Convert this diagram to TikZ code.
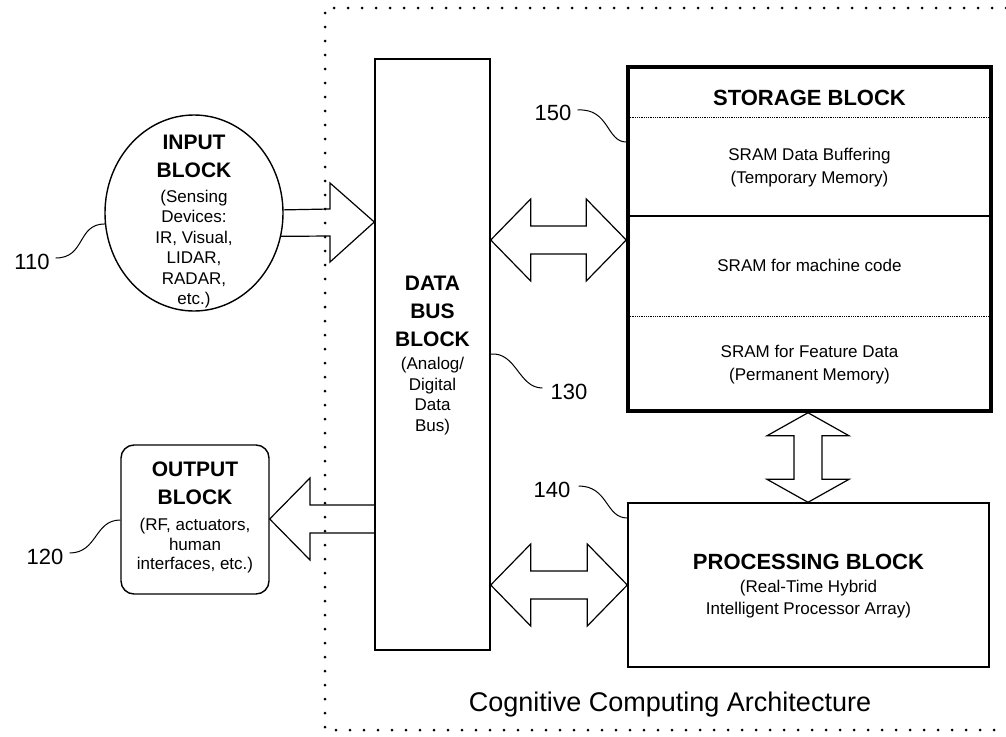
\documentclass[tikz,border=0pt]{standalone}
\usepackage{fontspec}
\setmainfont{Liberation Sans}
\usetikzlibrary{calc,shapes.geometric}
\begin{document}
\begin{tikzpicture}[x=1pt,y=-1pt,
  blk/.style={draw, line width=1.4pt, inner sep=0pt},
  barrow/.style={draw, line width=1.2pt, line join=miter},
  leader/.style={draw, line width=1pt},
  head/.style={font=\fontsize{21}{28}\selectfont\bfseries, align=center, inner sep=0pt},
  bighead/.style={font=\fontsize{22}{28}\selectfont\bfseries, align=center, inner sep=0pt},
  body/.style={font=\fontsize{17}{20.5}\selectfont, align=center, inner sep=0pt},
  lbl/.style={font=\fontsize{22}{26}\selectfont, inner sep=0pt},
  border/.style={line width=3pt, line cap=round, dash pattern=on 0pt off 14pt}
]
\useasboundingbox (0,0) rectangle (1006,736);
% dotted boundary of the architecture
\draw[border] (1006,8) -- (325,8) -- (325,730) -- (1006,730);

% blocks
\node[blk, ellipse, minimum width=178pt, minimum height=196pt] (in) at (194,213) {};
\node[blk, rounded corners=13pt, minimum width=148pt, minimum height=149pt] (out) at (195,519.5) {};
\node[blk, minimum width=115pt, minimum height=591pt] (bus) at (432.5,354.5) {};
\node[draw, line width=3.5pt, inner sep=0pt, minimum width=363pt, minimum height=344pt] (stor) at (809.5,239) {};
\node[blk, minimum width=361pt, minimum height=164pt] (proc) at (808.5,585) {};

% storage dividers
\draw[line width=0.8pt, densely dotted] (stor.west |- 0,117) -- (stor.east |- 0,117);
\draw[line width=1.2pt] (stor.west |- 0,216) -- (stor.east |- 0,216);
\draw[line width=0.8pt, densely dotted] (stor.west |- 0,316) -- (stor.east |- 0,316);

% texts
\node[head] (inH) at (194,156) {INPUT\\BLOCK};
\node[body] (inB) at (194,249) {(Sensing\\Devices:\\IR, Visual,\\LIDAR,\\RADAR,\\etc.)};
\node[head] (outH) at (195,483) {OUTPUT\\BLOCK};
\node[body, font=\fontsize{17}{19.5}\selectfont] (outB) at (195,546) {(RF, actuators,\\human\\interfaces, etc.)};
\node[head] (busH) at (432.5,311.5) {DATA\\BUS\\BLOCK};
\node[body] (busB) at (432.5,396) {(Analog/\\Digital\\Data\\Bus)};
\node[bighead] (storH) at (809.5,98) {STORAGE BLOCK};
\node[body, font=\fontsize{17}{23}\selectfont] (s1) at (809.5,167.5) {SRAM Data Buffering\\(Temporary Memory)};
\node[body] (s2) at (809.5,265) {SRAM for machine code};
\node[body, font=\fontsize{17}{23}\selectfont] (s3) at (809.5,364.5) {SRAM for Feature Data\\(Permanent Memory)};
\node[bighead] (procH) at (808.5,562) {PROCESSING BLOCK};
\node[body, font=\fontsize{17}{22}\selectfont] (procB) at (808.5,599) {(Real-Time Hybrid\\Intelligent Processor Array)};
\node[font=\fontsize{27}{32}\selectfont, inner sep=0pt] (cap) at (670,705) {Cognitive Computing Architecture};

% reference numerals
\node[lbl] (l110) at (32,262) {110};
\node[lbl] (l120) at (45,557) {120};
\node[lbl] (l150) at (553,113) {150};
\node[lbl] (l130) at (569,392) {130};
\node[lbl] (l140) at (552,490) {140};

\draw[leader] ($(l110.east)+(6,-4)$) .. controls +(30,0) and +(-28,0) .. (in.187);
\draw[leader] ($(l120.east)+(6,-4)$) .. controls +(28,0) and +(-26,0) .. (out.west |- 0,520);
\draw[leader] ($(l150.east)+(6,-3)$) .. controls +(32,-2) and +(-20,0) .. (stor.west |- 0,142);
\draw[leader] (bus.east |- 0,354) .. controls +(26,-2) and +(-24,0) .. ($(l130.west)+(-8,-4)$);
\draw[leader] ($(l140.east)+(8,-4)$) .. controls +(30,0) and +(-22,0) .. (proc.west |- 0,518);

% block arrows
% input -> bus
\draw[barrow] (in.2.6) -- (330,209) -- (330,183) -- (bus.west |- 0,222) -- (330,262) -- (330,236) -- (in.-15);
% bus -> output
\draw[barrow] (bus.west |- 0,505) -- (310,505) -- (310,478) -- (out.east |- 0,519) -- (310,560) -- (310,533) -- (bus.west |- 0,533);
% bus <-> storage
\draw[barrow] (bus.east |- 0,240) -- ++(40,-41) -- ++(0,27) -- ($(stor.west |- 0,226)+(-40,0)$) -- ++(0,-27) -- (stor.west |- 0,240) -- ++(-40,41) -- ++(0,-27) -- ($(bus.east |- 0,254)+(40,0)$) -- ++(0,27) -- cycle;
% bus <-> processing
\draw[barrow] (bus.east |- 0,585) -- ++(40,-41) -- ++(0,27) -- ($(proc.west |- 0,571)+(-40,0)$) -- ++(0,-27) -- (proc.west |- 0,585) -- ++(-40,41) -- ++(0,-27) -- ($(bus.east |- 0,599)+(40,0)$) -- ++(0,27) -- cycle;
% storage <-> processing
\draw[barrow] (808,0 |- stor.south) -- ++(-41,23) -- ++(27,0) -- ($(808,0 |- proc.north)+(-14,-23)$) -- ++(-27,0) -- (808,0 |- proc.north) -- ++(41,-23) -- ++(-27,0) -- ($(808,0 |- stor.south)+(14,23)$) -- ++(27,0) -- cycle;
\end{tikzpicture}
\end{document}
